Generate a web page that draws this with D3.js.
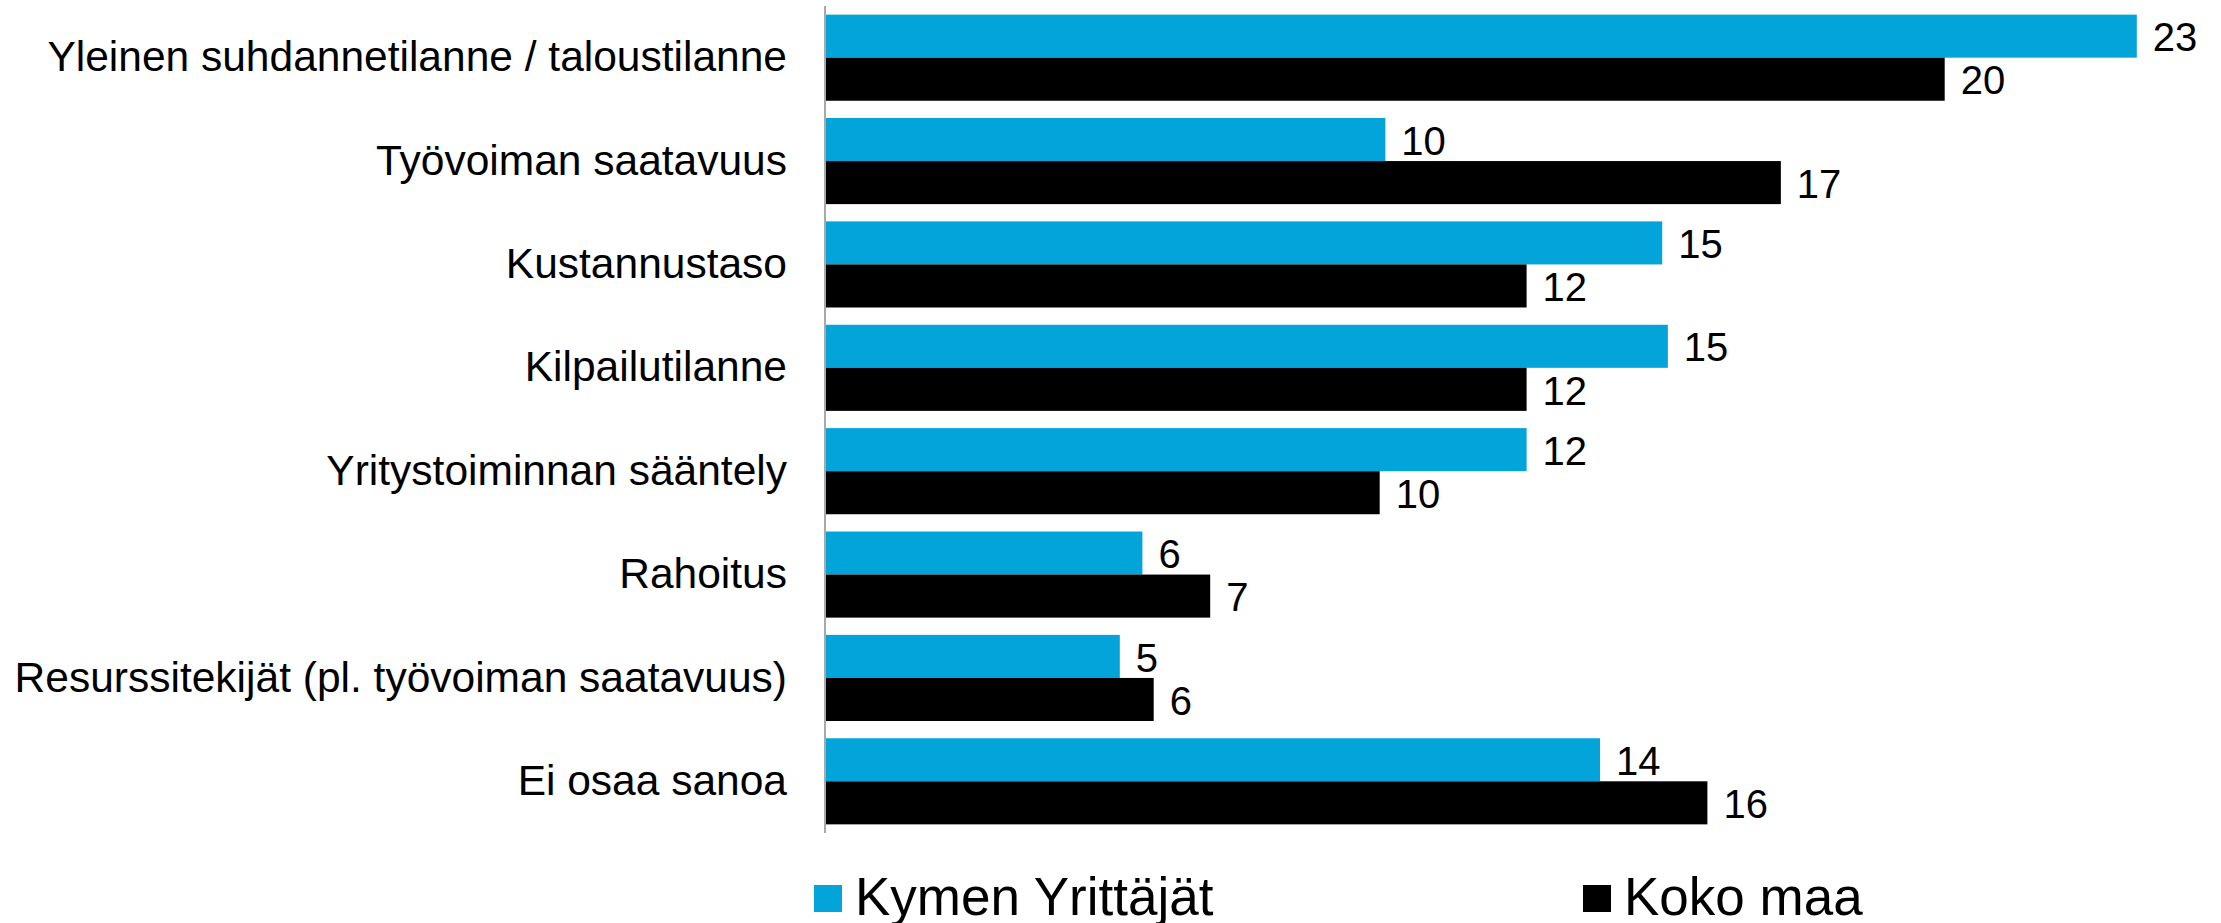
<!DOCTYPE html>
<html>
<head>
<meta charset="utf-8">
<script src="https://cdn.jsdelivr.net/npm/d3@7"></script>
<style>
  body { margin: 0; background: #fff; }
  svg { display: block; font-family: "Liberation Sans", Arial, sans-serif; }
</style>
</head>
<body>
<svg id="chart"></svg>
<script>
// data
var categories = [
  "Yleinen suhdannetilanne / taloustilanne",
  "Työvoiman saatavuus",
  "Kustannustaso",
  "Kilpailutilanne",
  "Yritystoiminnan sääntely",
  "Rahoitus",
  "Resurssitekijät (pl. työvoiman saatavuus)",
  "Ei osaa sanoa"
];
var kymen    = [23.2, 9.9, 14.8, 14.9, 12.4, 5.6, 5.2, 13.7];
var kokoMaa  = [19.8, 16.9, 12.4, 12.4, 9.8, 6.8, 5.8, 15.6];
var seriesNames  = ["Kymen Yrittäjät", "Koko maa"];
var seriesColors = ["#03A4DA", "#000000"];

var width = 2221, height = 923;
var svg = d3.select("#chart").attr("width", width).attr("height", height);

var x0 = 826;
var x = d3.scaleLinear().domain([0, 24]).range([x0, x0 + 24 * 56.5]);

var y = d3.scaleBand()
  .domain(categories)
  .range([6, 833])
  .paddingInner(0.167)
  .paddingOuter(0.0835);

var sub = d3.scaleBand()
  .domain(seriesNames)
  .range([0, y.bandwidth()]);

var rows = categories.map(function(c, i) {
  return { cat: c, vals: [kymen[i], kokoMaa[i]] };
});

// bars
var groups = svg.append("g").selectAll("g")
  .data(rows)
  .join("g")
  .attr("transform", function(d) { return "translate(0," + y(d.cat) + ")"; });

groups.selectAll("rect")
  .data(function(d) { return d.vals.map(function(v, j) { return { v: v, s: seriesNames[j], c: seriesColors[j] }; }); })
  .join("rect")
  .attr("x", x(0))
  .attr("y", function(d) { return sub(d.s); })
  .attr("width", function(d) { return x(d.v) - x(0); })
  .attr("height", sub.bandwidth())
  .attr("fill", function(d) { return d.c; });

groups.selectAll("text.val")
  .data(function(d) { return d.vals.map(function(v, j) { return { v: v, s: seriesNames[j] }; }); })
  .join("text")
  .attr("class", "val")
  .attr("x", function(d) { return x(d.v) + 16; })
  .attr("y", function(d) { return sub(d.s) + sub.bandwidth() / 2; })
  .attr("dy", "0.38em")
  .attr("font-size", 40)
  .attr("fill", "#000")
  .text(function(d) { return Math.round(d.v); });

// category axis
var yAxis = svg.append("g")
  .attr("transform", "translate(825,0)")
  .call(d3.axisLeft(y).tickSize(0).tickPadding(38));
yAxis.select(".domain").attr("stroke", "#8c8c8c").attr("stroke-width", 1.5)
  .attr("d", "M0,6V833");
yAxis.selectAll("text")
  .attr("font-size", 42.5)
  .attr("font-family", "'Liberation Sans', Arial, sans-serif")
  .attr("fill", "#000")
  .attr("dy", "0.32em");

// legend
var legendX = [814, 1583];
var legend = svg.append("g").selectAll("g")
  .data(seriesNames)
  .join("g")
  .attr("transform", function(d, i) { return "translate(" + legendX[i] + ",0)"; });
legend.append("rect")
  .attr("x", 0).attr("y", 885)
  .attr("width", 28).attr("height", 27)
  .attr("fill", function(d, i) { return seriesColors[i]; });
legend.append("text")
  .attr("x", 41).attr("y", 915)
  .attr("font-size", 53)
  .attr("fill", "#000")
  .text(function(d) { return d; });
</script>
</body>
</html>
